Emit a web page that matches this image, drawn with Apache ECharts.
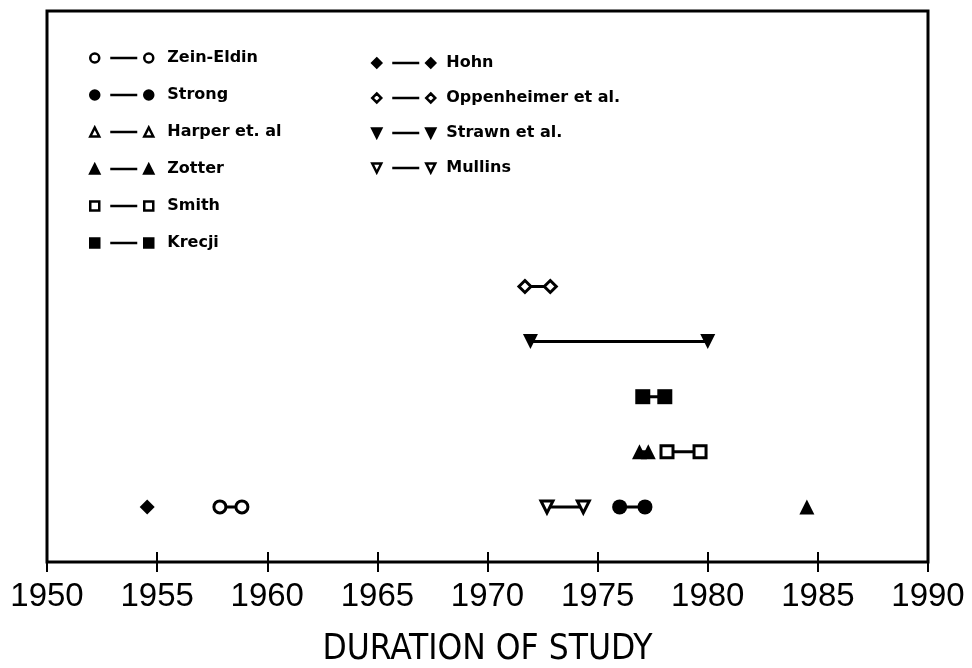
<!DOCTYPE html>
<html>
<head>
<meta charset="utf-8">
<title>Duration of study</title>
<script src="https://cdn.jsdelivr.net/npm/echarts@6/dist/echarts.min.js"></script>
<style>
  html, body { margin: 0; padding: 0; background: #fff; }
  #main { width: 972px; height: 668px; }
</style>
</head>
<body>
<div id="main"></div>
<script>
    // x = year, y = row in the chart
    var zeinEldin   = [[1957.85, 1], [1958.85, 1]];
    var strong      = [[1976.0, 1], [1977.15, 1]];
    var harper      = [];
    var zotterRow2  = [[1976.9, 2], [1977.3, 2]];
    var zotterRow1  = [[1984.5, 1]];
    var smith       = [[1978.15, 2], [1979.65, 2]];
    var krecji      = [[1977.05, 3], [1978.05, 3]];
    var hohn        = [[1954.55, 1]];
    var oppenheimer = [[1971.7, 5], [1972.85, 5]];
    var strawn      = [[1971.95, 4], [1980.0, 4]];
    var mullins     = [[1972.7, 1], [1974.35, 1]];

    var xTicks = { min: 1950, max: 1990, step: 5 };

    var triDown = 'path://M0 0 L10 0 L5 9 Z';

    // small marker shapes for the legend icons (marker — marker)
    function shape(kind, x) {
        if (kind == 'circle') return 'M' + x + ' 4.5 A4.5 4.5 0 1 1 ' + (x + 9) + ' 4.5 A4.5 4.5 0 1 1 ' + x + ' 4.5 Z ';
        if (kind == 'diamond') return 'M' + (x + 4.5) + ' 0 L' + (x + 9) + ' 4.5 L' + (x + 4.5) + ' 9 L' + x + ' 4.5 Z ';
        if (kind == 'triangle') return 'M' + (x + 4.5) + ' 0 L' + (x + 9) + ' 9 L' + x + ' 9 Z ';
        if (kind == 'down') return 'M' + x + ' 0 L' + (x + 9) + ' 0 L' + (x + 4.5) + ' 9 Z ';
        return 'M' + x + ' 0 L' + (x + 9) + ' 0 L' + (x + 9) + ' 9 L' + x + ' 9 Z ';
    }
    function icon(kind) {
        return 'path://' + shape(kind, 0) + 'M20 4.5 L47 4.5 ' + shape(kind, 54);
    }
    function legendItem(name, kind, open) {
        return {
            name: name,
            icon: icon(kind),
            itemStyle: open
                ? { color: '#fff', borderColor: '#000', borderWidth: 2.5 }
                : { color: '#000', borderColor: '#000', borderWidth: 2.5 }
        };
    }

    function study(name, data, symbol, open) {
        return {
            name: name,
            type: 'line',
            data: data,
            symbol: symbol,
            symbolSize: open ? 12 : 15,
            showAllSymbol: true,
            silent: true,
            animation: false,
            lineStyle: { color: '#000', width: 3 },
            itemStyle: open
                ? { color: '#fff', borderColor: '#000', borderWidth: 3 }
                : { color: '#000', borderColor: '#000', borderWidth: 0 }
        };
    }

    var legendText = {
        fontFamily: 'DejaVu Sans',
        fontWeight: 'bold',
        fontSize: 16,
        color: '#000',
        lineHeight: 18
    };

    var myChart = echarts.init(document.getElementById('main'));
    var option = {
        backgroundColor: '#fff',
        animation: false,
        grid: {
            left: 47, right: 44, top: 11, bottom: 106,
            outerBoundsMode: 'none',
            containLabel: false,
            show: true, backgroundColor: 'transparent',
            borderColor: '#000', borderWidth: 3
        },
        legend: [{
            orient: 'vertical', left: 84, top: 44,
            itemWidth: 63, itemHeight: 9, itemGap: 19,
            selectedMode: false,
            textStyle: Object.assign({ padding: [0, 0, 0, 9] }, legendText),
            data: [
                legendItem('Zein-Eldin', 'circle', true),
                legendItem('Strong', 'circle', false),
                legendItem('Harper et. al', 'triangle', true),
                legendItem('Zotter', 'triangle', false),
                legendItem('Smith', 'rect', true),
                legendItem('Krecji', 'rect', false)
            ]
        }, {
            orient: 'vertical', left: 366, top: 49,
            itemWidth: 63, itemHeight: 9, itemGap: 17,
            selectedMode: false,
            textStyle: Object.assign({ padding: [0, 0, 0, 6] }, legendText),
            data: [
                legendItem('Hohn', 'diamond', false),
                legendItem('Oppenheimer et al.', 'diamond', true),
                legendItem('Strawn et al.', 'down', false),
                legendItem('Mullins', 'down', true)
            ]
        }],
        xAxis: {
            type: 'value',
            position: 'bottom',
            z: 10,
            // lifted 10px so the 20px ticks cross the frame's bottom edge
            offset: -10,
            min: xTicks.min, max: xTicks.max, interval: xTicks.step,
            name: 'DURATION OF STUDY',
            nameLocation: 'middle',
            nameGap: 80,
            nameTextStyle: {
                fontFamily: 'Liberation Sans Narrow, DejaVu Sans Condensed, sans-serif',
                fontSize: 35, color: '#000'
            },
            axisLine: { show: false },
            axisTick: { show: true, inside: false, length: 20, lineStyle: { color: '#000', width: 2 } },
            axisLabel: {
                margin: 28,
                fontFamily: 'Liberation Sans, sans-serif',
                fontSize: 33, color: '#000',
                formatter: function (v) { return String(v); }
            },
            splitLine: { show: false }
        },
        yAxis: {
            type: 'value',
            min: 0, max: 10,
            show: false
        },
        series: [
            study('Zein-Eldin', zeinEldin, 'circle', true),
            study('Strong', strong, 'circle', false),
            study('Harper et. al', harper, 'triangle', true),
            study('Zotter', zotterRow2, 'triangle', false),
            study('Zotter', zotterRow1, 'triangle', false),
            study('Smith', smith, 'rect', true),
            study('Krecji', krecji, 'rect', false),
            study('Hohn', hohn, 'diamond', false),
            study('Oppenheimer et al.', oppenheimer, 'diamond', true),
            study('Strawn et al.', strawn, triDown, false),
            study('Mullins', mullins, triDown, true)
        ]
    };
    myChart.setOption(option);
</script>
</body>
</html>
